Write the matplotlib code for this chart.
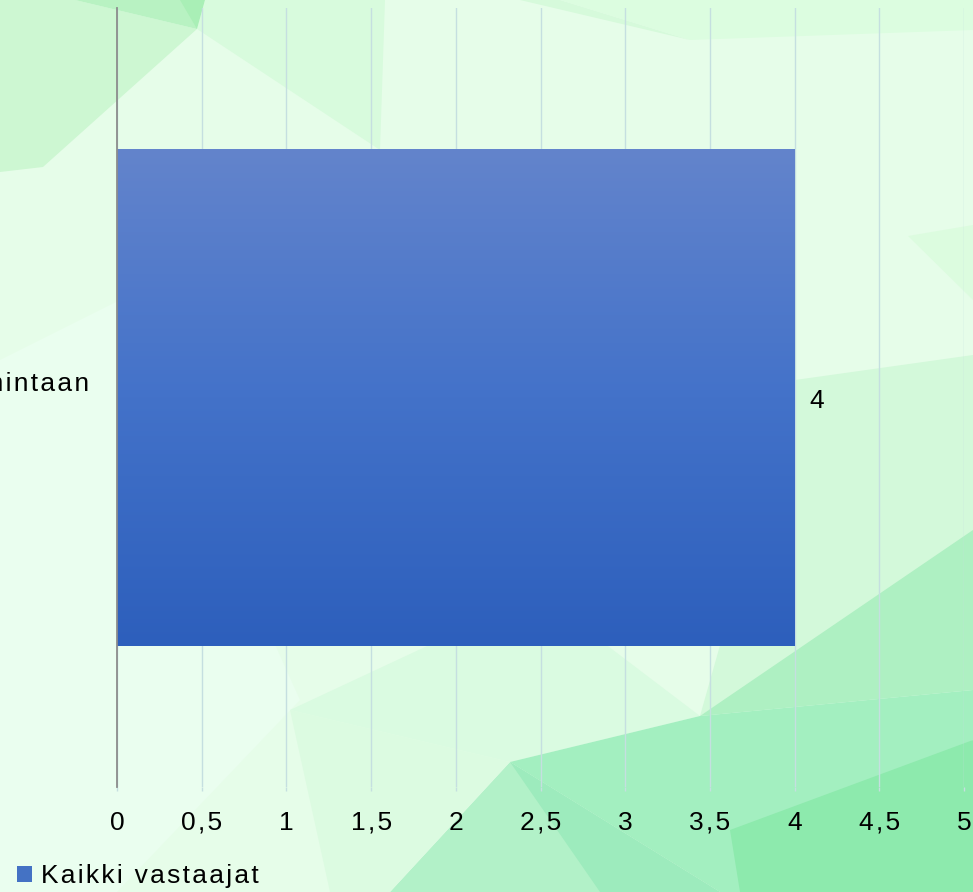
import numpy as np
import matplotlib.pyplot as plt
import matplotlib.transforms as mtransforms
from matplotlib.patches import Polygon, Patch
from matplotlib.colors import LinearSegmentedColormap

# data
categories = ['Toimintaan']
values = [4]
series_name = 'Kaikki vastaajat'
x_ticks = [0, 0.5, 1, 1.5, 2, 2.5, 3, 3.5, 4, 4.5, 5]

plt.rcParams['font.family'] = ['Liberation Sans', 'DejaVu Sans']

HS = '\u200a'  # hair space to mimic the wide letter spacing


def spaced(s):
    return HS.join(s)


W, H = 973, 892
fig = plt.figure(figsize=(W / 100, H / 100), dpi=100)

# low-poly background drawn in its own axes, pixel coords with y from top
bg_ax = fig.add_axes([0, 0, 1, 1], zorder=-1)
bg_ax.set_xlim(0, W)
bg_ax.set_ylim(H, 0)
bg_ax.axis('off')
bg_ax.add_patch(Polygon([(0, 0), (W, 0), (W, H), (0, H)], facecolor='#e6fde9', edgecolor='none'))
bg = [
    ('#eafeef', [(0, 360), (120, 300), (300, 700), (117, 892), (0, 892)]),
    ('#cdf7d2', [(0, 0), (75, 0), (197, 29), (43, 167), (0, 172)]),
    ('#b8f2c2', [(75, 0), (197, 29), (280, 0)]),
    ('#a9efb6', [(180, 0), (197, 29), (205, 0)]),
    ('#d8fbdd', [(205, 0), (197, 29), (380, 150), (385, 0)]),
    ('#d6fadb', [(520, 0), (690, 40), (560, 0)]),
    ('#dcfde0', [(560, 0), (973, 0), (973, 30), (690, 40)]),
    ('#dcfcdf', [(908, 236), (973, 225), (973, 300)]),
    ('#d3f9da', [(795, 380), (973, 355), (973, 540), (700, 716)]),
    ('#aef0c2', [(700, 716), (973, 530), (973, 690)]),
    ('#dafbe1', [(290, 710), (510, 762), (700, 716), (600, 640), (440, 640)]),
    ('#a3efc0', [(510, 762), (700, 716), (973, 690), (973, 740), (740, 892), (720, 892)]),
    ('#8deaad', [(730, 830), (973, 740), (973, 892), (740, 892)]),
    ('#b2f1c8', [(510, 762), (390, 892), (720, 892)]),
    ('#9debbd', [(510, 762), (720, 892), (600, 892)]),
    ('#dcfbe1', [(290, 710), (510, 762), (390, 892), (330, 892)]),
]
for col, pts in bg:
    bg_ax.add_patch(Polygon(pts, closed=True, facecolor=col, edgecolor='none'))

ax = fig.add_axes([117 / W, 1 - 787 / H, 847 / W, 779 / H])
ax.patch.set_alpha(0)

bars = ax.barh(categories, values, height=0.637, color='#4472c4', zorder=2)

# vertical gradient on the bar
grad = np.linspace(0, 1, 256).reshape(-1, 1)
cmap = LinearSegmentedColormap.from_list('bar', ['#2d5fbc', '#4372c9', '#6384cc'])
for b in bars:
    x0, y0 = b.get_x(), b.get_y()
    img = ax.imshow(grad, cmap=cmap, aspect='auto', origin='lower',
                    extent=[x0, x0 + b.get_width(), y0, y0 + b.get_height()], zorder=3)
    img.set_clip_path(b)

ax.set_xlim(0, 5)
ax.set_ylim(-0.5, 0.5)
ax.set_xticks(x_ticks)
ax.set_xticklabels([spaced(f'{t:g}'.replace('.', ',')) for t in x_ticks], fontsize=19)
ax.grid(axis='x', color='#c5dfe0', linewidth=1.0, zorder=1)
ax.set_axisbelow(True)
ax.tick_params(axis='x', length=3, color='#c5dfe0', width=1.0, pad=14)
ax.tick_params(axis='y', length=0, pad=20)
ax.set_yticks(range(len(categories)))
ax.set_yticklabels([spaced(c) for c in categories], fontsize=19)
for lbl in ax.get_yticklabels():
    lbl.set_transform(lbl.get_transform() + mtransforms.ScaledTranslation(0, 16 / 100, fig.dpi_scale_trans))

for s in ['top', 'right', 'bottom']:
    ax.spines[s].set_visible(False)
ax.spines['left'].set_color('#8c8c8c')
ax.spines['left'].set_linewidth(1.3)
ax.spines['left'].set_zorder(4)

for i, v in enumerate(values):
    ax.text(v + 0.09, i - 0.005, f'{v}', va='center', ha='left', fontsize=19, zorder=5)

fig.legend(handles=[Patch(facecolor='#4472c4', label=spaced(series_name))],
           loc='lower left', bbox_to_anchor=(17 / W, 4 / H), frameon=False,
           fontsize=19, handlelength=0.55, handleheight=0.55, handletextpad=0.35,
           borderpad=0, borderaxespad=0)

fig.savefig('out.png', dpi=100)
